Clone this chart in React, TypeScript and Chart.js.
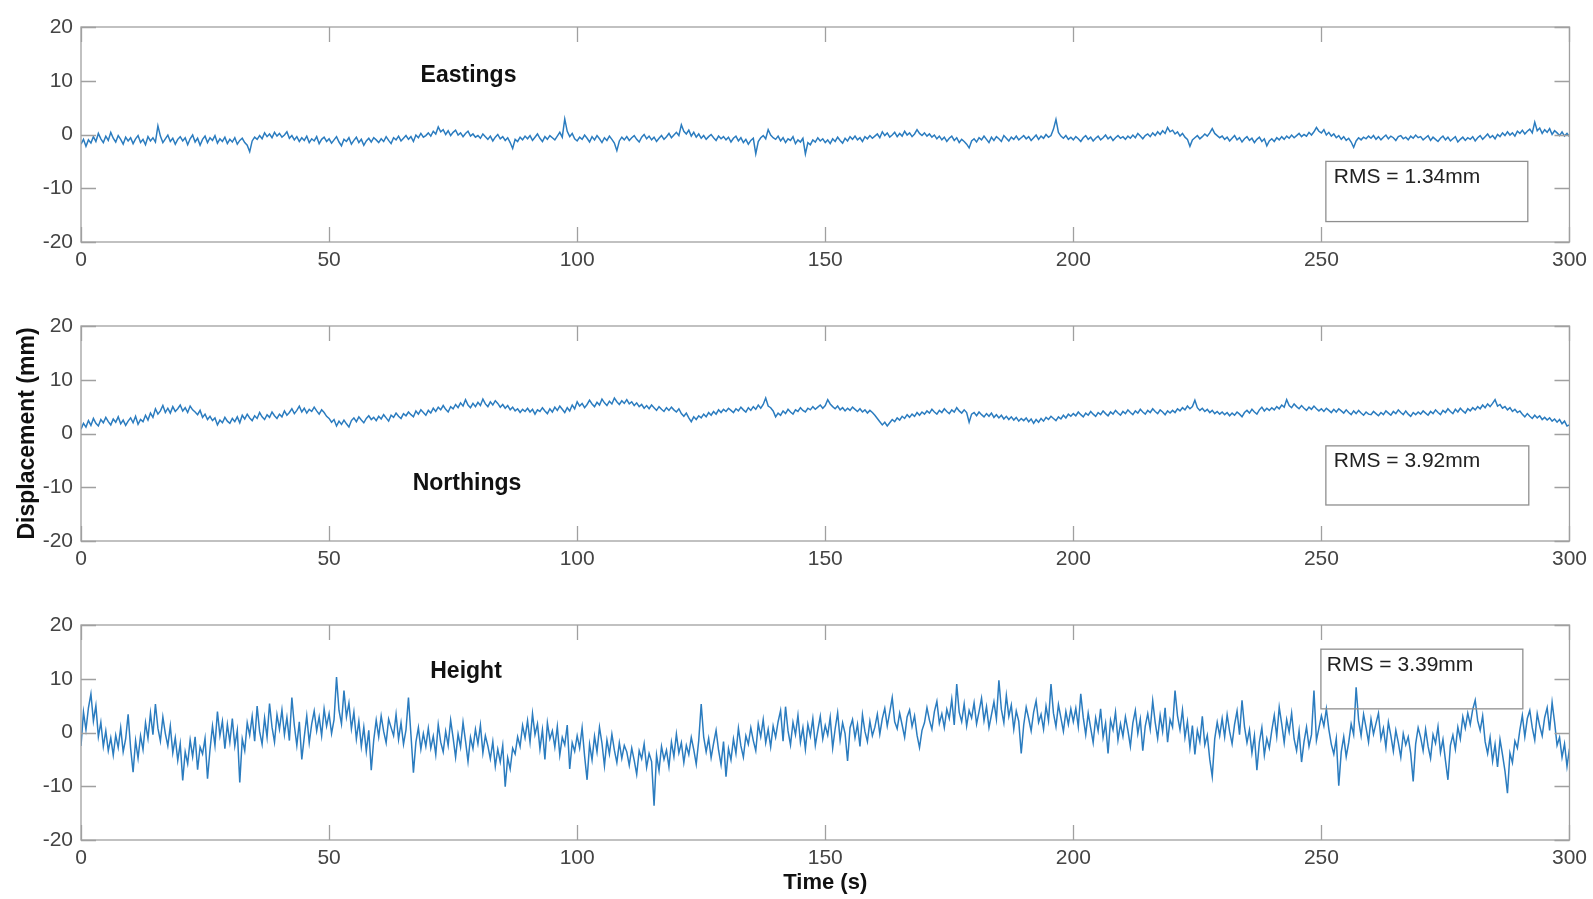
import React, { useEffect, useRef } from "react";
import { Chart, registerables } from "chart.js";

Chart.register(...registerables);

// GNSS displacement time series, one sample every 0.5 s over 300 s (mm)
const SAMPLE_STEP = 0.5;

const EASTINGS = [
  -1.8,-0.9,-2.2,-1.0,-1.6,-0.4,-1.3,0.2,-0.8,-1.5,-0.3,-1.1,0.4,-0.7,-1.4,-0.2,-0.9,-1.8,-0.5,-1.2,
  -0.6,-1.7,-0.8,-0.2,-1.5,-0.9,-1.9,-0.4,-1.2,-0.6,-1.4,1.6,-0.3,-1.5,-0.8,-0.1,-1.3,-0.7,-1.8,-0.9,
  -0.4,-1.2,-0.6,-1.9,-0.8,-0.1,-1.4,-0.7,-2.0,-0.9,-0.3,-1.5,-0.6,-1.1,-0.2,-1.6,-0.8,-1.3,-0.5,-1.7,
  -0.9,-1.4,-0.6,-1.8,-1.1,-0.7,-1.5,-2.0,-3.2,-1.2,-0.5,-0.9,-0.2,-0.8,0.3,-0.4,0.1,-0.6,0.4,-0.3,
  0.2,-0.5,-0.1,0.5,-0.7,-0.2,-1.0,-0.4,-1.3,-0.6,-1.1,-0.3,-1.5,-0.8,-1.2,-0.4,-1.7,-0.9,-0.5,-1.3,
  -0.8,-1.6,-1.0,-0.4,-1.4,-2.1,-0.9,-1.3,-0.6,-1.8,-1.1,-0.5,-1.5,-0.9,-2.0,-1.2,-0.7,-1.4,-0.6,-1.0,
  -1.5,-0.8,-1.3,-0.4,-1.1,-1.7,-0.6,-1.0,-0.3,-1.2,-0.7,-0.2,-0.9,-0.4,-1.3,-0.1,-0.6,0.2,-0.5,-0.2,
  0.3,-0.3,0.6,0.1,1.4,0.5,0.9,0.0,0.7,-0.2,0.4,0.8,-0.1,0.3,-0.4,0.2,0.6,-0.3,0.1,-0.5,
  -0.2,-0.7,0.1,-0.4,-0.9,-0.3,-1.2,-0.5,0.0,-0.8,-0.4,-1.1,-0.6,-1.5,-2.6,-0.9,-1.3,-0.5,-1.0,-0.3,
  -0.8,-0.2,-1.1,-0.5,0.1,-0.7,-1.3,-0.4,-0.9,-0.2,-0.6,-1.0,-0.3,0.4,-0.5,2.9,0.6,-0.4,0.2,-0.8,
  -1.2,-0.5,-0.9,-0.1,-0.7,-1.4,-0.4,-1.0,-0.2,-0.8,-1.5,-0.6,-1.1,-0.3,-0.9,-1.6,-3.0,-1.2,-0.5,-1.0,
  -0.4,-1.1,-0.6,-0.2,-0.9,-1.4,-0.5,0.0,-0.8,-0.3,-1.0,-0.5,-1.3,-0.7,-0.2,-0.9,-0.4,0.2,-0.6,-0.1,
  0.4,-0.2,1.8,0.6,0.1,0.8,-0.3,0.4,-0.5,0.1,-0.7,-0.2,-0.9,-0.4,0.0,-0.6,-1.1,-0.3,-0.8,-0.4,
  -1.0,-0.5,-1.4,-0.7,-0.3,-1.2,-0.6,-1.5,-0.9,-1.8,-1.1,-0.7,-3.6,-1.3,-0.6,-0.2,-0.8,0.9,-0.1,-0.6,
  -0.9,-0.3,-1.2,-0.6,-1.5,-0.8,-1.1,-0.4,-1.7,-1.0,-1.4,-0.7,-3.6,-1.5,-1.9,-1.0,-1.4,-0.6,-1.2,-0.8,
  -1.5,-1.0,-1.7,-0.8,-1.3,-0.5,-1.1,-1.6,-0.7,-1.2,-0.4,-0.9,-0.3,-1.0,-0.6,-1.3,-0.4,-0.8,-0.2,-0.7,
  -0.3,0.1,-0.6,0.5,-0.2,0.3,-0.5,-0.1,0.4,-0.4,0.2,-0.3,0.6,-0.1,0.3,-0.4,0.1,0.9,0.2,-0.2,
  0.3,-0.3,0.1,-0.5,-0.1,-0.8,-0.3,-1.0,-0.5,-1.3,-0.7,-0.3,-1.1,-0.6,-1.5,-0.9,-1.3,-1.8,-2.5,-1.2,
  -0.8,-1.4,-0.6,-1.0,-0.3,-0.9,-1.5,-0.5,-1.1,-0.4,-0.8,-1.3,-0.2,-0.7,-1.2,-0.5,-0.9,-0.3,-1.0,-0.6,
  -0.2,-0.8,-0.4,-1.1,-0.6,-0.1,-0.9,-0.3,-0.7,0.0,-0.5,-0.2,1.0,2.8,0.4,-0.3,-0.7,-0.2,-0.9,-0.5,
  -1.0,-0.4,-0.8,-1.3,-0.6,-0.2,-0.9,-0.5,-1.2,-0.7,-0.3,-1.0,-0.6,-0.1,-0.8,-0.4,-1.1,-0.6,-0.2,-0.7,
  -0.4,-0.9,-0.3,-0.7,-0.1,-0.6,0.2,-0.3,-0.8,-0.2,0.1,-0.4,0.3,-0.2,0.5,0.0,0.7,0.2,1.3,0.5,
  0.8,0.1,0.5,-0.3,0.2,-0.5,-0.9,-2.2,-1.0,-0.6,-0.2,-0.8,-0.4,0.1,-0.3,0.3,1.1,0.2,-0.2,-0.6,
  -0.3,-0.9,-0.5,-1.2,-0.7,-0.2,-1.0,-0.6,-1.4,-0.8,-0.4,-1.1,-0.7,-1.5,-0.9,-0.5,-1.3,-0.8,-2.1,-1.2,
  -0.8,-1.3,-0.6,-1.0,-0.4,-0.9,-0.3,-0.7,-0.1,-0.6,-0.2,0.2,-0.4,0.0,-0.3,0.4,-0.1,0.5,1.3,0.6,
  0.3,0.9,-0.1,0.4,-0.3,0.1,-0.6,-0.2,-0.9,-0.4,-1.1,-0.7,-1.4,-2.4,-1.2,-0.6,-1.0,-0.5,-0.8,-0.3,
  -0.7,-0.2,-0.9,-0.4,-1.0,-0.5,-0.1,-0.8,-0.3,-0.6,-1.1,-0.4,-0.2,-0.8,-0.5,-1.0,-0.3,-0.7,-0.1,-0.6,
  -0.4,-1.0,-0.6,-0.2,-1.1,-0.5,-0.9,-1.3,-0.7,-0.3,-1.0,-0.5,-1.2,-0.8,-0.4,-1.4,-0.9,-0.5,-1.1,-0.6,
  -0.9,-0.4,-1.2,-0.6,-0.2,-0.9,-0.4,0.1,-0.6,-0.2,-0.8,0.0,-0.4,0.3,-0.2,0.5,-0.1,0.3,-0.3,0.6,
  0.2,0.8,0.1,0.6,1.0,0.3,2.3,0.7,1.2,0.2,0.9,0.4,1.1,0.0,0.7,0.3,-0.2,0.5,-0.3,0.2,
  -0.4,
];

const NORTHINGS = [
  0.8,1.9,1.2,2.4,1.5,2.8,1.9,1.4,2.6,2.0,3.0,2.2,1.6,2.7,2.1,3.1,1.8,2.5,1.5,2.3,
  2.9,2.0,3.2,1.7,2.6,2.2,3.4,2.5,3.8,3.0,4.6,3.6,4.2,5.2,3.9,4.7,3.8,5.0,4.1,4.6,
  5.3,4.2,4.8,3.9,5.1,4.4,4.0,3.5,4.3,3.0,3.6,2.6,3.2,2.4,2.9,1.6,2.5,2.0,3.0,2.3,
  1.9,2.8,2.2,3.1,2.0,3.4,2.7,3.6,2.9,2.4,3.3,2.8,3.9,3.1,2.6,3.5,3.0,4.0,3.3,2.8,
  3.6,3.1,4.2,3.4,3.9,4.6,3.7,4.3,5.1,4.0,4.7,3.8,4.5,4.1,4.9,4.2,3.6,4.4,3.9,3.2,
  2.8,2.1,2.6,1.4,2.3,1.7,2.5,1.8,1.2,2.4,2.9,2.2,3.1,2.5,2.0,2.8,3.3,2.6,3.0,2.4,
  3.2,2.7,3.5,2.9,2.3,3.4,3.0,3.8,3.2,2.8,3.7,3.3,4.0,3.5,3.1,4.2,3.6,4.4,3.9,3.4,
  4.3,3.8,4.7,4.1,4.9,4.4,5.2,4.5,4.0,5.0,4.6,5.4,4.8,5.7,5.1,6.3,5.3,4.8,5.6,5.0,
  5.8,5.2,6.4,5.5,5.0,5.9,5.3,6.1,5.6,4.9,5.4,4.7,5.2,4.4,4.9,4.2,4.6,3.9,4.5,4.1,
  4.7,4.0,4.5,3.6,4.4,4.1,4.8,4.2,3.7,4.6,4.0,4.9,4.3,5.1,4.5,3.9,4.8,4.2,5.3,4.6,
  5.9,5.1,5.6,4.8,5.4,6.2,5.5,5.0,5.8,5.3,6.4,5.7,5.2,6.0,5.5,6.6,5.9,5.4,6.1,5.6,
  6.3,5.5,5.9,5.2,5.7,5.0,5.4,4.7,5.2,4.6,5.3,4.8,4.3,5.0,4.5,4.1,4.8,4.3,4.9,4.4,
  4.0,4.6,3.7,3.2,3.8,2.9,2.2,3.1,2.6,3.3,2.9,3.6,3.1,3.9,3.4,4.1,3.6,4.4,3.9,4.5,
  4.1,4.7,4.3,3.9,4.6,4.2,4.9,4.4,4.0,4.8,4.3,5.0,4.5,5.3,4.7,5.4,6.6,5.1,4.8,4.2,
  3.1,3.8,3.4,4.2,3.7,4.5,4.0,3.6,4.4,4.1,4.8,4.3,4.0,4.7,4.4,5.0,4.5,4.9,5.3,4.7,
  5.2,6.3,5.5,5.0,4.6,5.1,4.4,4.8,4.2,4.7,4.3,4.9,4.5,4.1,4.6,4.0,4.4,3.8,4.3,3.9,
  3.4,2.8,2.2,1.6,2.1,1.4,2.0,2.6,2.2,2.9,2.5,3.2,2.8,3.5,3.0,3.6,3.2,3.9,3.4,4.0,
  3.6,4.2,3.8,4.5,4.0,3.6,4.3,3.9,4.6,4.1,3.7,4.4,4.0,4.8,4.2,3.8,4.4,3.9,2.1,3.6,
  3.9,3.3,4.0,3.5,3.1,3.7,3.2,3.8,3.0,3.5,2.9,3.4,2.7,3.2,2.6,3.1,2.5,3.0,2.3,2.8,
  2.4,2.9,2.2,2.7,1.9,2.6,2.1,2.8,2.3,3.0,2.6,3.2,2.8,2.4,3.1,2.7,3.4,2.9,3.6,3.2,
  3.7,3.3,4.0,3.5,3.1,3.8,3.4,4.1,3.6,3.2,3.9,3.5,4.2,3.7,3.3,4.0,3.6,4.3,3.8,3.4,
  4.1,3.7,4.4,3.9,3.5,4.2,3.8,4.5,4.0,3.6,4.3,3.9,4.6,4.1,3.7,4.4,4.0,3.5,4.2,3.8,
  4.3,3.9,4.6,4.2,4.8,4.4,5.1,4.6,5.0,6.2,4.8,4.3,4.7,4.1,4.5,3.9,4.3,3.7,4.1,3.6,
  4.0,3.5,3.9,3.3,3.8,3.4,4.0,3.6,3.1,3.9,4.3,3.8,4.5,4.0,3.6,4.4,4.9,4.2,4.7,4.3,
  4.8,4.4,5.0,4.6,5.3,4.9,6.3,5.2,4.8,5.5,5.0,4.6,5.2,4.7,4.3,4.9,4.5,5.1,4.6,4.2,
  4.6,4.1,4.7,4.3,3.9,4.5,4.0,4.6,4.2,3.8,4.4,3.9,3.5,4.2,3.7,4.3,3.8,3.4,4.0,3.6,
  3.5,4.1,3.7,3.3,3.9,3.5,4.2,3.8,3.4,4.1,3.7,4.4,3.9,3.5,4.2,3.6,3.2,3.9,3.5,4.0,
  3.6,4.2,3.8,3.4,4.1,3.7,4.4,3.9,3.5,4.3,3.9,4.6,4.1,3.7,4.5,4.0,4.7,4.2,3.8,4.6,
  4.2,4.8,4.4,5.0,4.6,5.3,4.8,5.5,5.0,5.6,6.3,5.1,5.4,4.7,5.0,4.4,4.8,4.1,4.5,3.9,
  4.2,3.6,3.1,3.7,3.2,2.8,3.4,2.9,3.3,2.6,3.0,2.5,2.9,2.3,2.7,2.1,2.6,1.8,2.3,1.4,
  1.6,
];

const HEIGHT = [
  -2.5,3.8,0.5,4.6,7.2,2.1,5.0,-0.8,1.9,-2.6,0.3,-3.4,-1.0,-4.2,-0.5,-2.8,0.9,-3.6,-1.2,3.4,
  -2.9,-7.4,-1.5,-4.8,-0.6,-3.2,1.8,-1.1,3.6,-0.4,5.3,0.8,-1.6,2.9,-0.2,-2.5,1.2,-3.8,-1.0,-5.2,
  -2.1,-8.9,-3.6,-5.8,-1.4,-4.5,-0.8,-6.9,-2.7,-4.0,-1.1,-8.6,-3.2,1.2,-2.4,3.9,-0.6,2.1,-3.0,1.5,
  -1.8,2.6,-2.5,0.4,-9.3,-1.2,-3.4,1.8,-0.5,3.0,-1.6,4.9,0.2,-2.2,2.7,-0.9,5.4,1.0,-1.8,3.3,
  0.6,4.2,-0.4,2.8,-1.5,6.5,1.3,-2.4,2.0,-5.0,-0.8,3.1,-1.9,1.6,4.0,0.3,2.9,-0.6,4.4,1.2,
  3.5,-0.2,2.4,10.3,4.1,1.6,7.8,2.9,5.5,0.7,3.8,-1.2,2.1,-2.6,1.0,-3.5,0.4,-7.0,-1.4,2.3,
  -0.8,3.1,0.2,-1.9,2.5,0.9,-0.6,3.4,-1.3,1.8,-2.2,0.5,6.5,-0.4,-7.5,-1.8,0.9,-3.1,-0.2,-2.6,
  0.8,-2.9,-0.7,-4.1,1.5,-1.8,-3.6,0.2,-2.4,2.3,-1.0,-4.6,-0.3,-2.7,1.9,-1.6,-5.4,-0.9,-3.0,0.6,
  -2.1,1.4,-3.8,-0.6,-2.5,-4.9,-1.7,-6.3,-3.1,-5.5,-2.4,-10.1,-4.7,-6.8,-2.9,-4.0,-0.8,-2.6,1.3,-1.0,
  2.2,-1.8,3.5,-0.4,1.6,-3.1,0.5,-5.0,1.8,-1.2,0.3,-2.7,1.1,-4.2,-0.9,-2.3,1.4,-6.8,-1.9,-3.5,
  -0.6,-2.9,0.9,-4.4,-8.8,-2.2,-5.1,-0.7,-3.6,1.0,-2.0,-6.2,-1.4,-4.0,-0.3,-3.3,-5.6,-1.9,-4.8,-2.4,
  -3.6,-6.1,-2.9,-5.2,-7.8,-3.4,-4.9,-2.1,-6.5,-3.9,-5.4,-13.6,-4.2,-7.1,-2.6,-5.0,-3.3,-6.4,-1.8,-4.5,
  -0.3,-3.8,-1.9,-5.6,-2.4,-4.1,-0.9,-3.2,-5.9,-1.5,5.3,-0.8,-3.6,-1.1,-4.7,-2.0,0.4,-3.3,-6.0,-1.7,
  -8.2,-3.0,-5.1,-1.2,-3.9,0.8,-2.5,-4.6,-0.6,-2.2,0.9,-1.5,-3.4,1.6,-0.8,2.4,-1.9,0.6,-2.7,1.2,
  -0.9,2.0,4.1,-1.6,4.8,0.3,-2.3,1.9,-0.4,3.2,-1.8,0.9,-3.1,1.5,-0.7,2.6,-2.4,0.4,3.0,-1.2,
  1.3,-0.5,2.8,-2.9,0.7,3.7,-1.4,1.8,-0.2,-5.3,0.9,2.4,-1.0,1.5,-2.6,3.3,0.2,-1.7,2.1,-0.6,
  1.0,3.4,-0.3,2.6,4.5,1.2,3.8,6.5,2.0,0.7,3.6,1.4,-0.9,2.9,4.2,1.1,3.1,-0.5,-2.8,0.4,
  1.8,4.6,2.3,0.6,3.9,5.8,1.7,3.5,0.9,4.3,2.6,6.2,1.4,9.0,3.8,2.0,5.3,1.2,4.1,2.7,
  5.5,1.6,3.9,6.4,2.2,4.8,0.9,3.3,5.7,2.5,9.7,4.3,1.8,6.9,3.0,5.1,0.6,4.0,2.1,-3.9,
  1.4,4.7,2.6,0.3,3.8,5.9,1.9,3.4,0.6,4.9,2.2,9.0,3.6,1.1,5.2,2.7,0.2,3.9,1.5,4.4,
  2.0,4.5,1.1,7.2,2.8,-0.4,3.6,0.8,-1.9,2.7,0.3,4.4,-0.9,1.7,-3.9,2.3,0.5,3.8,-1.4,1.6,
  -0.7,2.9,0.4,-2.6,1.8,4.1,-0.2,2.5,-3.4,1.2,3.5,0.6,5.9,1.9,-1.1,3.2,0.2,4.6,-1.8,2.4,
  1.0,7.8,3.1,0.5,4.2,-0.9,2.0,-2.8,1.3,-4.1,0.4,-1.7,3.0,-2.3,-0.5,-5.0,-8.2,-1.2,1.9,-0.6,
  2.6,-0.8,3.3,0.2,-2.1,1.5,4.0,-0.4,6.0,1.1,-1.9,0.5,-3.8,-0.6,-7.0,-1.8,0.9,-4.2,-1.1,-2.9,
  0.4,3.2,-0.7,4.7,1.6,-1.9,2.4,0.1,3.6,-1.2,-3.4,0.3,-5.5,-1.7,1.0,-2.6,-0.4,7.8,-1.5,0.8,
  3.1,1.2,4.4,0.6,-2.2,-4.0,-1.1,-9.9,-3.6,-0.8,-4.5,-1.9,1.6,-0.4,8.4,2.3,-0.6,3.4,0.9,-1.8,
  2.5,-0.3,1.7,3.6,-1.2,0.8,-2.8,1.9,-0.6,-3.5,0.4,-1.9,-4.6,-0.2,-2.3,-0.8,-3.9,-9.1,-2.1,0.9,
  -0.9,-3.4,0.6,-2.6,-4.8,-0.4,-2.0,1.1,-3.7,-1.3,-5.2,-8.8,-2.4,-0.5,-3.1,1.0,-1.2,2.9,0.8,3.6,
  1.5,4.3,6.0,2.2,0.4,3.1,-1.7,-3.9,-0.9,-5.3,-2.2,-6.4,-1.3,-4.1,-7.2,-11.3,-3.8,-5.6,-1.6,-2.9,
  0.5,3.2,-0.8,2.6,4.1,0.9,-1.4,3.5,1.2,-0.6,2.8,4.6,0.4,5.6,1.9,-2.4,-0.9,-4.6,-2.1,-6.3,
  -3.0,
];

const PANEL_NAMES = ["Eastings", "Northings", "Height"];
const RMS_LABELS = ["RMS = 1.34mm", "RMS = 3.92mm", "RMS = 3.39mm"];
const SERIES = [EASTINGS, NORTHINGS, HEIGHT];

const X_MIN = 0;
const X_MAX = 300;
const X_STEP = 50;
const Y_MIN = -20;
const Y_MAX = 20;
const Y_STEP = 10;

const FONT = "'Liberation Sans', Arial, Helvetica, sans-serif";
const LINE_COLOR = "#2b7cbf";
const FRAME_COLOR = "#a0a0a0";
const TICK_TEXT = "#444";
const TICK_LEN = 15;

const CANVAS_W = 1593;
const CANVAS_H = 299;

// Text and box placement for each panel, in data units of that panel
const LAYOUT = [
  { title: [78.1, 9.8], box: [250.9, -5.0, 291.6, -16.2], rms: [252.5, -9.0] },
  { title: [77.8, -10.5], box: [250.9, -2.3, 291.8, -13.3], rms: [252.5, -6.3] },
  { title: [77.6, 10.1], box: [249.9, 15.5, 290.6, 4.4], rms: [251.1, 11.4] },
];

type PanelProps = { index: number };

function Panel({ index }: PanelProps) {
  const ref = useRef<HTMLCanvasElement | null>(null);

  useEffect(() => {
    const values = SERIES[index];
    const lay = LAYOUT[index];

    const overlay = {
      id: "axesOverlay",
      afterDatasetsDraw(chart: any) {
        const { ctx, chartArea: a, scales } = chart;
        const xs = scales.x;
        const ys = scales.y;
        ctx.save();

        // box around the axes with inward tick marks on all four sides
        ctx.strokeStyle = FRAME_COLOR;
        ctx.lineWidth = 1.3;
        ctx.strokeRect(a.left, a.top, a.right - a.left, a.bottom - a.top);
        ctx.beginPath();
        xs.ticks.forEach((t: any) => {
          const px = Math.round(xs.getPixelForValue(t.value)) + 0.5;
          ctx.moveTo(px, a.bottom);
          ctx.lineTo(px, a.bottom - TICK_LEN);
          ctx.moveTo(px, a.top);
          ctx.lineTo(px, a.top + TICK_LEN);
        });
        ys.ticks.forEach((t: any) => {
          const py = Math.round(ys.getPixelForValue(t.value)) + 0.5;
          ctx.moveTo(a.left, py);
          ctx.lineTo(a.left + TICK_LEN, py);
          ctx.moveTo(a.right, py);
          ctx.lineTo(a.right - TICK_LEN, py);
        });
        ctx.stroke();

        // component name
        ctx.fillStyle = "#111";
        ctx.font = `bold 23px ${FONT}`;
        ctx.textAlign = "center";
        ctx.textBaseline = "alphabetic";
        ctx.fillText(
          PANEL_NAMES[index],
          xs.getPixelForValue(lay.title[0]),
          ys.getPixelForValue(lay.title[1])
        );

        // RMS text box
        const [bx0, by0, bx1, by1] = lay.box;
        const l = xs.getPixelForValue(bx0);
        const r = xs.getPixelForValue(bx1);
        const t = ys.getPixelForValue(by0);
        const b = ys.getPixelForValue(by1);
        ctx.strokeStyle = "#8f8f8f";
        ctx.lineWidth = 1.3;
        ctx.strokeRect(l, t, r - l, b - t);
        ctx.fillStyle = "#222";
        ctx.font = `21px ${FONT}`;
        ctx.textAlign = "left";
        ctx.fillText(
          RMS_LABELS[index],
          xs.getPixelForValue(lay.rms[0]),
          ys.getPixelForValue(lay.rms[1])
        );

        // shared axis titles
        if (index === 1) {
          ctx.save();
          ctx.translate(28, (a.top + a.bottom) / 2);
          ctx.rotate(-Math.PI / 2);
          ctx.font = `bold 23px ${FONT}`;
          ctx.textAlign = "center";
          ctx.textBaseline = "middle";
          ctx.fillStyle = "#111";
          ctx.fillText("Displacement (mm)", 0, 0);
          ctx.restore();
        }
        if (index === 2) {
          ctx.font = `bold 22px ${FONT}`;
          ctx.textAlign = "center";
          ctx.textBaseline = "alphabetic";
          ctx.fillStyle = "#111";
          ctx.fillText("Time (s)", xs.getPixelForValue(150), a.bottom + 49);
        }
        ctx.restore();
      },
    };

    const chart = new Chart(ref.current as HTMLCanvasElement, {
      type: "line",
      data: {
        datasets: [
          {
            label: PANEL_NAMES[index],
            data: values.map((v, i) => ({ x: i * SAMPLE_STEP, y: v })),
            borderColor: LINE_COLOR,
            borderWidth: 1.5,
            pointRadius: 0,
            tension: 0,
            fill: false,
          },
        ],
      },
      options: {
        responsive: false,
        animation: false,
        events: [],
        layout: { padding: { top: 27, right: 23, bottom: 17, left: 0 } },
        plugins: { legend: { display: false }, tooltip: { enabled: false } },
        scales: {
          x: {
            type: "linear",
            min: X_MIN,
            max: X_MAX,
            ticks: {
              stepSize: X_STEP,
              padding: 6,
              color: TICK_TEXT,
              font: { family: FONT, size: 21 },
              maxRotation: 0,
              autoSkip: false,
            },
            grid: { display: false, drawTicks: false },
            border: { display: false },
            afterFit: (s: any) => {
              s.height = 40;
            },
          },
          y: {
            min: Y_MIN,
            max: Y_MAX,
            ticks: {
              stepSize: Y_STEP,
              padding: 8,
              color: TICK_TEXT,
              font: { family: FONT, size: 21 },
            },
            grid: { display: false, drawTicks: false },
            border: { display: false },
            afterFit: (s: any) => {
              s.width = 81;
            },
          },
        },
      },
      plugins: [overlay],
    });
    return () => chart.destroy();
  }, [index]);

  return (
    <canvas
      ref={ref}
      width={CANVAS_W}
      height={CANVAS_H}
      style={{ position: "absolute", left: 0, top: index * CANVAS_H, display: "block" }}
    />
  );
}

export default function App() {
  return (
    <div
      style={{
        position: "fixed",
        left: 0,
        top: 0,
        width: CANVAS_W,
        height: 899,
        background: "#fff",
        overflow: "hidden",
      }}
    >
      {SERIES.map((_, i) => (
        <Panel key={i} index={i} />
      ))}
    </div>
  );
}
